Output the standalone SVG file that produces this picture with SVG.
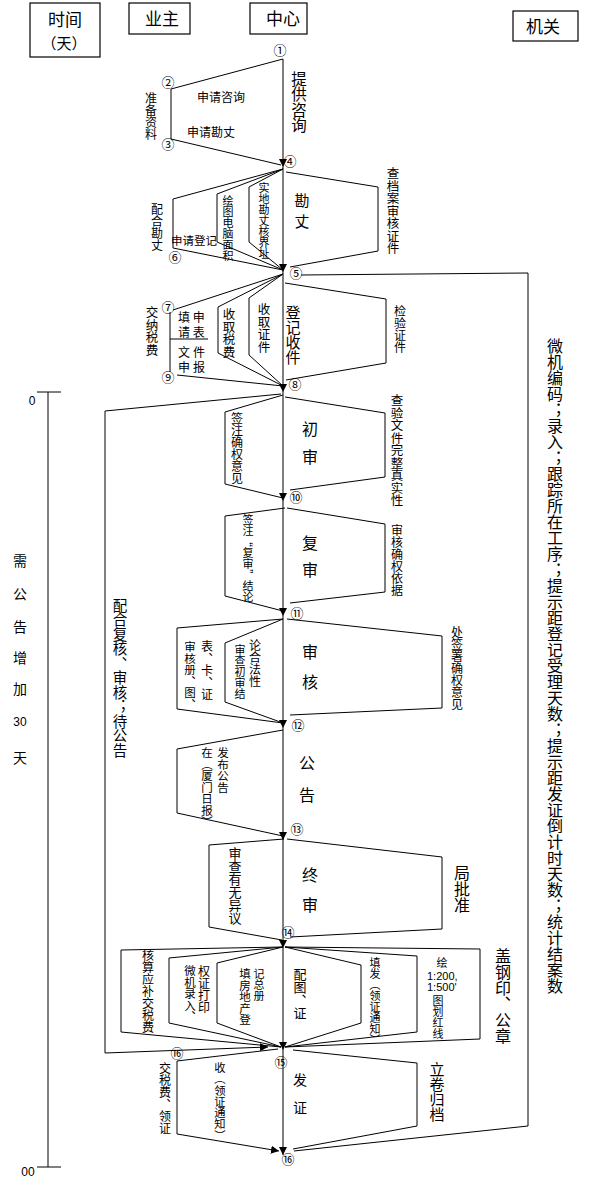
<svg xmlns="http://www.w3.org/2000/svg" width="589" height="1182" viewBox="0 0 589 1182">
<defs>
<style>
.ln{fill:none;stroke:#000;stroke-width:1}
.bx{fill:#fff;stroke:#000;stroke-width:1.2}
text{font-family:"Noto Sans CJK SC","Noto Sans",sans-serif;fill:#000}
.v{writing-mode:vertical-rl}
.n{font-size:13px;text-anchor:middle}
.m{text-anchor:middle}
.lat{font-family:"Liberation Sans",sans-serif}
</style>
<marker id="ah" viewBox="0 0 10 10" refX="10" refY="5" markerWidth="8" markerHeight="8" markerUnits="userSpaceOnUse" orient="auto">
<path d="M0,0 L10,5 L0,10 z" fill="#000"/>
</marker>
</defs>
<rect width="589" height="1182" fill="#fff"/>

<g id="header-time"><rect class="bx" x="30" y="3" width="70" height="54"/><text class="m" x="65" y="26" font-size="17">时间</text><text class="m" x="64" y="49" font-size="15">（天）</text></g>
<g id="header-owner"><rect class="bx" x="129" y="3" width="61" height="31"/><text class="m" x="162" y="25" font-size="17">业主</text></g>
<g id="header-center"><rect class="bx" x="250" y="3" width="57" height="31"/><text class="m" x="283" y="25" font-size="17">中心</text></g>
<g id="header-authority"><rect class="bx" x="513" y="11" width="65" height="30"/><text class="m" x="543" y="33" font-size="17">机关</text></g>

<g id="connectors">
<line class="ln" x1="283" y1="59" x2="283" y2="167" marker-end="url(#ah)"/>
<line class="ln" x1="283" y1="167" x2="283" y2="272" marker-end="url(#ah)"/>
<line class="ln" x1="283" y1="272" x2="283" y2="392" marker-end="url(#ah)"/>
<line class="ln" x1="283" y1="392" x2="283" y2="501" marker-end="url(#ah)"/>
<line class="ln" x1="283" y1="501" x2="283" y2="616" marker-end="url(#ah)"/>
<line class="ln" x1="283" y1="616" x2="283" y2="728" marker-end="url(#ah)"/>
<line class="ln" x1="283" y1="728" x2="283" y2="840" marker-end="url(#ah)"/>
<line class="ln" x1="283" y1="840" x2="283" y2="948" marker-end="url(#ah)"/>
<line class="ln" x1="283" y1="948" x2="283" y2="1050" marker-end="url(#ah)"/>
<line class="ln" x1="283" y1="1050" x2="283" y2="1155" marker-end="url(#ah)"/>
<polyline class="ln" points="283,59 171,89 171,139 281,165"/>
<polyline class="ln" points="283,169 173,199 173,248 283,270"/>
<polyline class="ln" points="283,169 217,194 217,242 283,270"/>
<polyline class="ln" points="283,169 249,187 249,242 283,270"/>
<polyline class="ln" points="286,172 378,187 378,251 290,267"/>
<line class="ln" x1="283" y1="274" x2="173" y2="310"/>
<line class="ln" x1="170" y1="312" x2="170" y2="372"/>
<line class="ln" x1="177" y1="375" x2="283" y2="386"/>
<line class="ln" x1="170" y1="339" x2="208" y2="339"/>
<polyline class="ln" points="283,274 218,307 218,353 283,386"/>
<polyline class="ln" points="283,274 249,298 249,355 283,386"/>
<polyline class="ln" points="285,283 386,299 386,363 286,380"/>
<polyline class="ln" points="301,275 528,273 528,1126 294,1151"/>
<polyline class="ln" points="281,394 105,411 105,1053 268,1047" marker-end="url(#ah)"/>
<polyline class="ln" points="283,395 225,412 225,484 283,498"/>
<polyline class="ln" points="285,397 385,413 385,477 290,490"/>
<polyline class="ln" points="285,508 225,516 225,596 283,611"/>
<polyline class="ln" points="287,508 385,524 385,592 290,603"/>
<polyline class="ln" points="283,619 177,628 177,709 283,723"/>
<polyline class="ln" points="283,619 225,643 225,702 283,723"/>
<polyline class="ln" points="287,619 442,636 442,708 290,715"/>
<polyline class="ln" points="283,730 177,749 177,813 283,836"/>
<polyline class="ln" points="284,839 209,845 209,927 282,940"/>
<polyline class="ln" points="287,839 442,857 442,929 290,937"/>
<polyline class="ln" points="283,947 121,950 121,1032 281,1047"/>
<polyline class="ln" points="283,947 169,958 169,1023 281,1047"/>
<polyline class="ln" points="283,947 217,963 217,1023 281,1047"/>
<polyline class="ln" points="285,947 361,965 361,1023 285,1047"/>
<polyline class="ln" points="285,947 417,956 417,1032 285,1047"/>
<polyline class="ln" points="285,947 480,949 480,1039 285,1047"/>
<polyline class="ln" points="278,1049 177,1061 177,1134 279,1151" marker-end="url(#ah)"/>
<polyline class="ln" points="293,1050 417,1063 417,1126 293,1149"/>
<line class="ln" x1="48" y1="392" x2="48" y2="1167"/>
<line class="ln" x1="37" y1="392" x2="61" y2="392"/>
<line class="ln" x1="37" y1="1167" x2="61" y2="1167"/>
</g>

<g id="node-numbers">
<text class="n" x="280" y="55">①</text>
<text class="n" x="168" y="87">②</text>
<text class="n" x="168" y="149">③</text>
<text class="n" x="290" y="166">④</text>
<text class="n" x="296" y="278">⑤</text>
<text class="n" x="175" y="262">⑥</text>
<text class="n" x="168" y="312">⑦</text>
<text class="n" x="295" y="389">⑧</text>
<text class="n" x="168" y="382">⑨</text>
<text class="n" x="296" y="502">⑩</text>
<text class="n" x="297" y="618">⑪</text>
<text class="n" x="298" y="730">⑫</text>
<text class="n" x="297" y="834">⑬</text>
<text class="n" x="288" y="937">⑭</text>
<text class="n" x="281" y="1067">⑮</text>
<text class="n" x="177" y="1058">⑯</text>
<text class="n" x="288" y="1164">⑯</text>
</g>

<g id="stage-consult">
<text class="v" x="151" y="92" font-size="12">准备资料</text>
<text x="197" y="102" font-size="12">申请咨询</text>
<text x="187" y="137" font-size="12">申请勘丈</text>
<text class="v" x="299" y="71" font-size="15.5">提供咨询</text>
</g>

<g id="stage-survey">
<text class="v" x="157" y="203" font-size="12">配合勘丈</text>
<text x="171" y="245" font-size="11.5">申请登记</text>
<text class="v" x="228" y="195" font-size="11">绘图电脑面积</text>
<text class="v" x="264" y="182" font-size="11">实地勘丈核界址</text>
<text class="m" x="302" y="206" font-size="15">勘</text>
<text class="m" x="302" y="227" font-size="15">丈</text>
<text class="v" x="393" y="167" font-size="12.5">查档案审核证件</text>
</g>

<g id="stage-register">
<text class="v" x="152" y="306" font-size="12.5">交纳税费</text>
<text x="178" y="322" font-size="12">填 申</text>
<text x="178" y="337" font-size="12">请 表</text>
<text x="178" y="357" font-size="12" letter-spacing="3">文件</text>
<text x="178" y="372" font-size="12" letter-spacing="3">申报</text>
<text class="v" x="229" y="308" font-size="12.5">收取税费</text>
<text class="v" x="264" y="303" font-size="12.5">收取证件</text>
<text class="v" x="293" y="305" font-size="15">登记收件</text>
<text class="v" x="400" y="305" font-size="12">检验证件</text>
</g>

<g id="stage-initial-review">
<text class="v" x="237" y="412" font-size="12">签注确权意见</text>
<text class="m" x="310" y="435" font-size="16">初</text>
<text class="m" x="310" y="463" font-size="16">审</text>
<text class="v" x="397" y="394" font-size="12.5">查验文件完整真实性</text>
</g>

<g id="stage-re-review">
<text class="v" x="248" y="514" font-size="11">签注“复审”结论</text>
<text class="m" x="310" y="549" font-size="16">复</text>
<text class="m" x="310" y="576" font-size="16">审</text>
<text class="v" x="397" y="524" font-size="12">审核确权依据</text>
</g>

<g id="stage-audit">
<text class="v" x="190" y="641" font-size="11.5">审核册、图、</text>
<text class="v" x="207" y="640" font-size="12">表、卡、证</text>
<text class="v" x="240" y="644" font-size="11">审查初审结</text>
<text class="v" x="255" y="639" font-size="12">论合法性</text>
<text class="m" x="310" y="658" font-size="16">审</text>
<text class="m" x="310" y="688" font-size="16">核</text>
<text class="v" x="457" y="626" font-size="12">处签署确权意见</text>
</g>

<g id="stage-announce">
<text class="v" x="207" y="747" font-size="11.5">在（厦门日报）</text>
<text class="v" x="223" y="747" font-size="11.5">发布公告</text>
<text class="m" x="307" y="769" font-size="16">公</text>
<text class="m" x="307" y="801" font-size="16">告</text>
<text class="v" x="120" y="598" font-size="14.5">配合复核、审核；待公告</text>
</g>

<g id="stage-final-review">
<text class="v" x="235" y="847" font-size="13">审查有无异议</text>
<text class="m" x="310" y="881" font-size="16">终</text>
<text class="m" x="310" y="911" font-size="16">审</text>
<text class="v" x="462" y="865" font-size="16">局批准</text>
</g>

<g id="stage-certificate">
<text class="v" x="148" y="949" font-size="12">核算应补交税费</text>
<text class="v" x="190" y="965" font-size="11.5">微机录入、</text>
<text class="v" x="204" y="965" font-size="12">权证打印</text>
<text class="v" x="245" y="968" font-size="11.5">填房地产登</text>
<text class="v" x="259" y="968" font-size="11">记总册</text>
<text class="v" x="300" y="968" font-size="13">配图、证</text>
<text class="v" x="375" y="957" font-size="11">填发（领证通知）</text>
<text class="m" x="442" y="967" font-size="11">绘</text>
<text class="lat" x="427" y="980" font-size="11">1:200,</text>
<text class="lat" x="427" y="991" font-size="11">1:500'</text>
<text class="v" x="438" y="995" font-size="11">图划红线</text>
<text class="v" x="503" y="948" font-size="16">盖钢印、公章</text>
</g>

<g id="stage-issue">
<text class="v" x="165" y="1062" font-size="12">交税费、领证</text>
<text class="v" x="220" y="1062" font-size="11.3">收（领证通知）</text>
<text class="m" x="300" y="1085" font-size="14">发</text>
<text class="m" x="300" y="1113" font-size="14">证</text>
<text class="v" x="437" y="1062" font-size="15">立卷归档</text>
</g>

<g id="authority-note">
<text class="v" x="555" y="338" font-size="16">微机编码；录入；跟踪所在工序；提示距登记受理天数；提示距发证倒计时天数；统计结案数</text>
</g>

<g id="time-scale">
<text class="lat m" x="32" y="405" font-size="12">0</text>
<text class="lat m" x="28" y="1176" font-size="12">00</text>
<text class="m" x="20" y="566" font-size="14">需</text>
<text class="m" x="20" y="599" font-size="14">公</text>
<text class="m" x="20" y="632" font-size="14">告</text>
<text class="m" x="20" y="663" font-size="14">增</text>
<text class="m" x="20" y="694" font-size="14">加</text>
<text class="lat m" x="20" y="726" font-size="12">30</text>
<text class="m" x="20" y="763" font-size="14">天</text>
</g>
</svg>
